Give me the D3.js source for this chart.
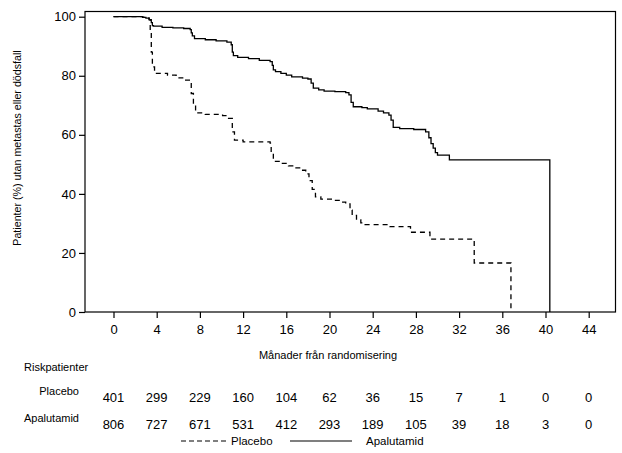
<!DOCTYPE html>
<html>
  <head>
    <meta charset="UTF-8" />
    <title>Kaplan-Meier</title>
    <style>
      body { margin: 0; background: #fff; }
      svg text { font-family: 'Liberation Sans', Arial, sans-serif; fill: #000; }
    </style>
    <script src="https://d3js.org/d3.v7.min.js"></script>
  </head>
  <body>
    <div id="viz"></div>
    <script>
      // survival curves (months, % without metastasis or death)
      const apaMonths = [0, 2.7, 3.0, 3.3, 3.5, 3.6, 3.7, 4.5, 5.5, 6.5, 7.1, 7.2, 7.3, 7.5, 8.5, 9.5, 10.5, 10.9, 11.0, 11.1,
        11.5, 12.5, 13.5, 14.5, 14.7, 14.8, 15.0, 15.5, 16.0, 16.5, 17.5, 18.0, 18.3, 18.5, 19.0, 19.5, 20.5, 21.5,
        21.8, 22.0, 22.2, 23.0, 23.5, 24.5, 25.0, 25.5, 25.7, 25.9, 26.5, 27.8, 28.9, 29.2, 29.4, 29.6, 29.8, 30.0,
        31.1, 40.4];
      const apaSurv = [100, 99.8, 99.5, 99, 98, 97, 96.8, 96.4, 96.2, 96, 95.6, 94.5, 93.5, 92.6, 92.2, 91.8, 91.4, 90.5, 88, 86.8,
        86.2, 85.8, 85.2, 84.8, 83.5, 82, 81.4, 80.8, 80.2, 79.6, 79.2, 78.9, 77.5, 75.8, 75.2, 74.8, 74.6, 74.3,
        73.5, 71, 69.5, 69.2, 68.8, 68, 67.4, 66.7, 65, 62.5, 62.1, 61.8, 61, 59, 57, 55.5, 54, 53.1,
        51.5, 0];

      const plaMonths = [0, 2.7, 3.0, 3.3, 3.4, 3.5, 3.6, 3.8, 5.0, 5.8, 6.5, 7.1, 7.2, 7.4, 7.6, 8.5, 10.1, 10.5, 11.0, 11.2,
        12.0, 14.5, 14.6, 14.8, 15.5, 16.2, 16.8, 17.3, 17.8, 18.1, 18.4, 18.7, 19.2, 20.3, 21.0, 21.5, 21.9, 22.1,
        22.5, 22.9, 23.3, 25.6, 27.5, 29.3, 33.4, 36.8];
      const plaSurv = [100, 99.8, 99.5, 99, 95, 88, 83, 80.8, 80.2, 79.3, 78.5, 77.6, 74, 70, 67.4, 66.9, 66.5, 65.6, 61, 58.2,
        57.6, 57.2, 54, 51, 50.3, 49.5, 48.8, 48, 46.8, 44.5, 41.5, 39, 38.2, 37.8, 37.2, 36.6, 34.5, 32.7,
        31.2, 30.2, 29.6, 28.9, 27.0, 24.7, 16.6, 0];

      // number at risk
      const riskMonths = [0, 4, 8, 12, 16, 20, 24, 28, 32, 36, 40, 44];
      const placeboRisk = [401, 299, 229, 160, 104, 62, 36, 15, 7, 1, 0, 0];
      const apaRisk = [806, 727, 671, 531, 412, 293, 189, 105, 39, 18, 3, 0];

      const yTicks = [0, 20, 40, 60, 80, 100];

      const width = 622, height = 453;
      const frame = { left: 85, right: 615.5, top: 11.5, bottom: 312 };

      const svg = d3.select('#viz').append('svg')
        .attr('width', width)
        .attr('height', height);

      const x = d3.scaleLinear().domain([0, 44]).range([113.5, 588.7]);
      const y = d3.scaleLinear().domain([0, 100]).range([312, 16.7]);

      // frame
      svg.append('rect')
        .attr('x', frame.left)
        .attr('y', frame.top)
        .attr('width', frame.right - frame.left)
        .attr('height', frame.bottom - frame.top)
        .attr('fill', 'none')
        .attr('stroke', '#000')
        .attr('stroke-width', 1.2);

      // axes
      const xAxis = svg.append('g')
        .attr('transform', `translate(0,${frame.bottom})`)
        .call(d3.axisBottom(x).tickValues(riskMonths).tickSize(6).tickPadding(7));
      const yAxis = svg.append('g')
        .attr('transform', `translate(${frame.left},0)`)
        .call(d3.axisLeft(y).tickValues(yTicks).tickSize(6).tickPadding(3));
      [xAxis, yAxis].forEach((g) => {
        g.select('.domain').remove();
        g.selectAll('line').attr('stroke', '#000').attr('stroke-width', 1.2);
        g.selectAll('text').attr('font-size', 13).attr('fill', '#000')
          .style('font-family', "'Liberation Sans', Arial, sans-serif");
      });

      // curves
      const line = (months, surv) => d3.line()
        .x((d, i) => x(months[i]))
        .y((d) => y(d))
        .curve(d3.curveStepAfter)(surv);

      svg.append('path')
        .attr('d', line(plaMonths, plaSurv))
        .attr('fill', 'none')
        .attr('stroke', '#000')
        .attr('stroke-width', 1.3)
        .attr('stroke-dasharray', '5,4');

      svg.append('path')
        .attr('d', line(apaMonths, apaSurv))
        .attr('fill', 'none')
        .attr('stroke', '#000')
        .attr('stroke-width', 1.3);

      // labels
      svg.append('text')
        .attr('transform', `translate(21,148) rotate(-90)`)
        .attr('text-anchor', 'middle')
        .attr('font-size', 10.7)
        .text('Patienter (%) utan metastas eller dödsfall');

      svg.append('text')
        .attr('x', 328)
        .attr('y', 359)
        .attr('text-anchor', 'middle')
        .attr('font-size', 11)
        .text('Månader från randomisering');

      // risk table
      svg.append('text')
        .attr('x', 24)
        .attr('y', 371)
        .attr('font-size', 11)
        .text('Riskpatienter');

      const rows = [
        { name: 'Placebo', vals: placeboRisk, y: 398 },
        { name: 'Apalutamid', vals: apaRisk, y: 425 },
      ];
      rows.forEach((r) => {
        svg.append('text')
          .attr('x', 79)
          .attr('y', r.y - 3)
          .attr('text-anchor', 'end')
          .attr('font-size', 11)
          .text(r.name);
        svg.selectAll(null)
          .data(r.vals)
          .join('text')
          .attr('x', (d, i) => x(riskMonths[i]))
          .attr('y', r.y + 4)
          .attr('text-anchor', 'middle')
          .attr('font-size', 13)
          .text((d) => d);
      });

      // legend
      const lg = svg.append('g').attr('transform', 'translate(0,441)');
      lg.append('line')
        .attr('x1', 181).attr('x2', 226).attr('y1', 0).attr('y2', 0)
        .attr('stroke', '#000').attr('stroke-width', 1.2)
        .attr('stroke-dasharray', '5,3');
      lg.append('text').attr('x', 231).attr('y', 4).attr('font-size', 11.5).text('Placebo');
      lg.append('line')
        .attr('x1', 290).attr('x2', 352).attr('y1', 0).attr('y2', 0)
        .attr('stroke', '#000').attr('stroke-width', 1.2);
      lg.append('text').attr('x', 366).attr('y', 4).attr('font-size', 11.5).text('Apalutamid');
    </script>
  </body>
</html>
